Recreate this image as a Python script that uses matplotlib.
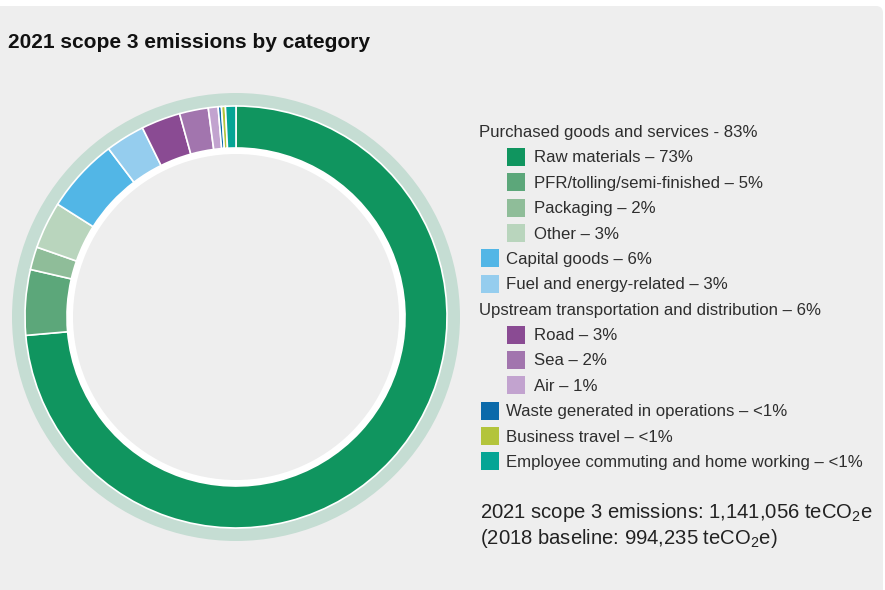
import matplotlib
matplotlib.use("Agg")
import matplotlib.pyplot as plt
from matplotlib.patches import Rectangle, FancyBboxPatch, Wedge

plt.rcParams['font.family'] = ['Liberation Sans', 'DejaVu Sans']
plt.rcParams['mathtext.fontset'] = 'custom'
plt.rcParams['mathtext.rm'] = 'Liberation Sans'
plt.rcParams['mathtext.it'] = 'Liberation Sans:italic'

# slice shares (%), clockwise from 12 o'clock
slice_names = ['Raw materials', 'PFR/tolling/semi-finished', 'Packaging', 'Other',
               'Capital goods', 'Fuel and energy-related', 'Road', 'Sea', 'Air',
               'Waste generated in operations', 'Business travel',
               'Employee commuting and home working']
slice_values = [73.5, 5.0, 1.75, 3.6, 5.7, 3.0, 3.0, 2.2, 0.75, 0.25, 0.3, 0.8]
slice_colors = ['#10955f', '#5ca77a', '#8fbd99', '#b9d5bd', '#52b6e6', '#95cdee',
                '#8a4b93', '#a275ae', '#c2a3cf', '#0b6aaa', '#b3c43b', '#05a595']

# legend rows: text, colour (None = group header), indent level
legend_labels = ['Purchased goods and services - 83%',
                 'Raw materials – 73%',
                 'PFR/tolling/semi-finished – 5%',
                 'Packaging – 2%',
                 'Other – 3%',
                 'Capital goods – 6%',
                 'Fuel and energy-related – 3%',
                 'Upstream transportation and distribution – 6%',
                 'Road – 3%',
                 'Sea – 2%',
                 'Air – 1%',
                 'Waste generated in operations – <1%',
                 'Business travel – <1%',
                 'Employee commuting and home working – <1%']
legend_colors = [None, '#10955f', '#5ca77a', '#8fbd99', '#b9d5bd', '#52b6e6', '#95cdee',
                 None, '#8a4b93', '#a275ae', '#c2a3cf', '#0b6aaa', '#b3c43b', '#05a595']
legend_levels = [0, 2, 2, 2, 2, 1, 1, 0, 2, 2, 2, 1, 1, 1]

W, H = 885, 590
fig = plt.figure(figsize=(W / 100, H / 100), dpi=100)
fig.patch.set_facecolor('white')
ax = fig.add_axes([0, 0, 1, 1])

def py(y):
    # pixel row (from top) to data y
    return H - y

# grey panel
ax.add_patch(FancyBboxPatch((-20, -20), 20 + 883, 20 + py(6), boxstyle='round,pad=0,rounding_size=7',
                            facecolor='#eeeeee', edgecolor='none', zorder=0))

cx, cy = 236, py(317)
# pale outer ring
ax.add_patch(Wedge((cx, cy), 224, 0, 360, width=14, facecolor='#c5ddd3', edgecolor='none', zorder=1))
# white inner ring
ax.add_patch(Wedge((cx, cy), 169, 0, 360, width=6, facecolor='white', edgecolor='none', zorder=1))

ax.pie(slice_values, colors=slice_colors, startangle=90, counterclock=False,
       center=(cx, cy), radius=211,
       wedgeprops=dict(width=42, edgecolor='white', linewidth=1.2))

ax.set_xlim(0, W)
ax.set_ylim(0, H)
ax.set_aspect('equal')
ax.axis('off')

# title
ax.text(8, py(43), '2021 scope 3 emissions by category', fontsize=15, fontweight='bold',
        color='#111111', ha='left', va='center')

# legend
row0, step = 132.5, 25.38
text_x = {0: 479, 1: 506, 2: 534}
sw_x = {1: 481, 2: 507}
for i, (lab, col, lev) in enumerate(zip(legend_labels, legend_colors, legend_levels)):
    yc = row0 + i * step
    if col is not None:
        ax.add_patch(Rectangle((sw_x[lev], py(yc + 8)), 18, 18, facecolor=col,
                               edgecolor='none', zorder=3))
    ax.text(text_x[lev], py(yc), lab, fontsize=12.1, color='#2e2e2e', ha='left', va='center')

ax.text(480, py(512), r'2021 scope 3 emissions: 1,141,056 teCO$_2$e', fontsize=14.6,
        color='#222222', ha='left', va='center')
ax.text(480, py(539), r'(2018 baseline: 994,235 teCO$_2$e)', fontsize=14.6,
        color='#222222', ha='left', va='center')

fig.savefig('out.png', dpi=100, facecolor=fig.get_facecolor())
